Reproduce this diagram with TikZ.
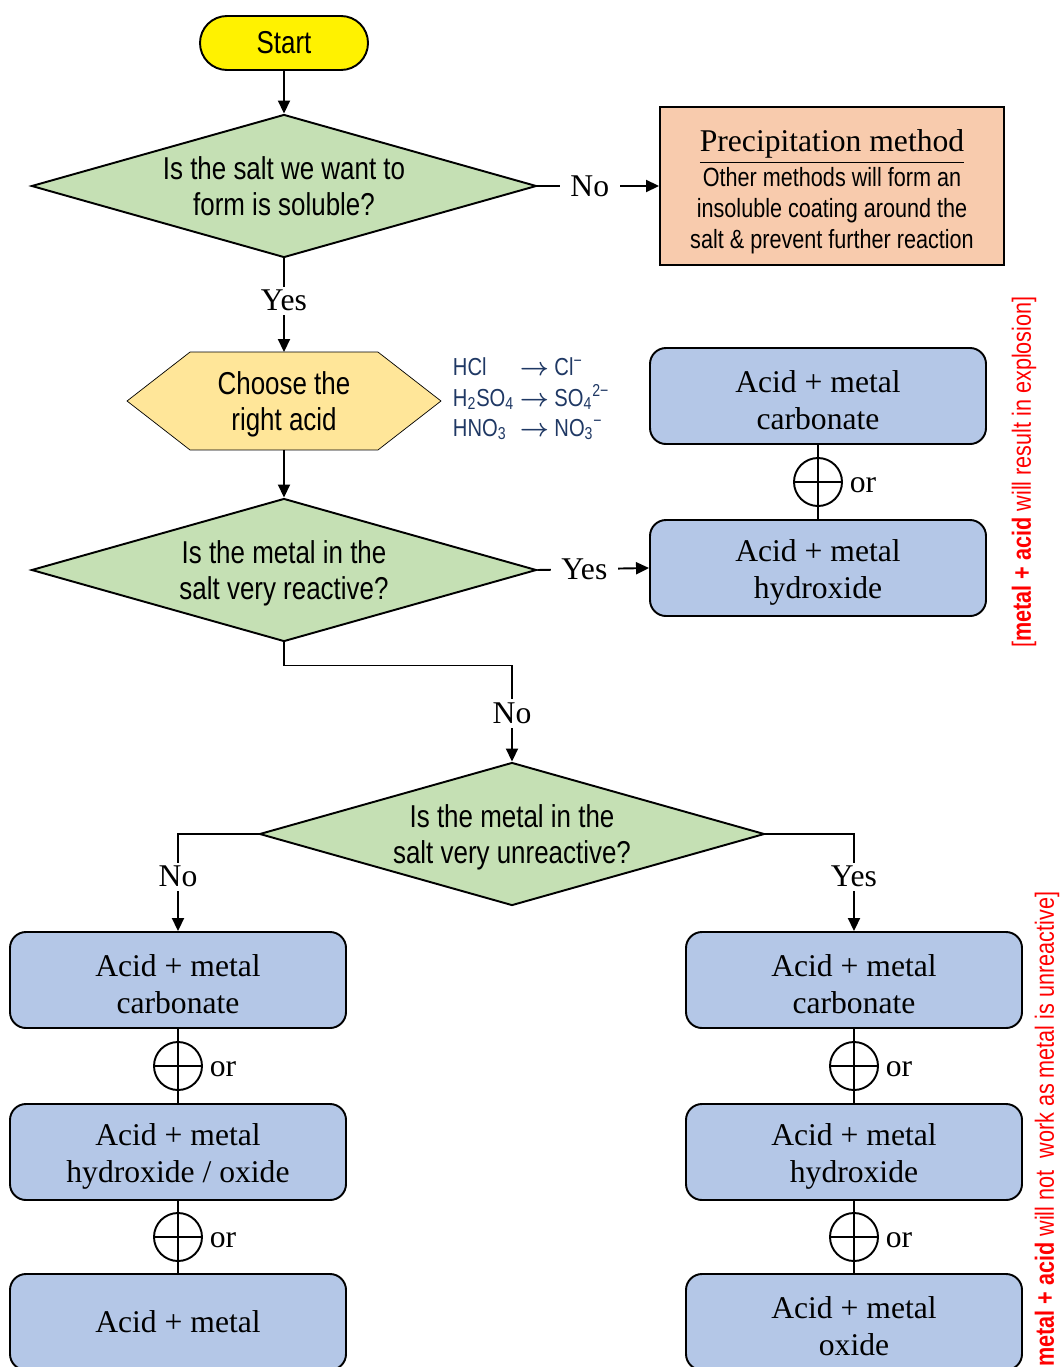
\documentclass[tikz,border=0pt]{standalone}
\usepackage{amsmath}
\usepackage{fontspec}
\setmainfont{Liberation Serif}
\newfontfamily\narrowsf[FakeStretch=0.82]{Liberation Sans}
\usetikzlibrary{arrows.meta,positioning,calc,shapes.geometric,backgrounds}
\definecolor{decgreen}{HTML}{C5E0B4}
\definecolor{boxblue}{HTML}{B4C7E7}
\definecolor{hexyellow}{HTML}{FFE699}
\definecolor{peach}{HTML}{F8CBAD}
\definecolor{chemnavy}{HTML}{1F3864}
\newcommand{\toion}{$\boldsymbol{\rightarrow}$}
\newcommand{\topline}{\rule{0pt}{17.5pt}}

\begin{document}
\begin{tikzpicture}[x=0.2mm,y=0.2mm,line width=1.1pt,
      font=\fontsize{18}{21}\selectfont,
      dec/.style={diamond,draw,fill=decgreen,aspect=3.53,inner sep=0pt,
                  minimum width=101mm,minimum height=28.6mm,align=center,
                  text depth=0pt,font=\fontsize{18}{21}\narrowsf},
      acid/.style={draw,fill=boxblue,rounded corners=3.2mm,align=center,
                   minimum width=67.2mm,minimum height=19.2mm},
      orsign/.style={circle,draw,minimum size=9.6mm,inner sep=0pt,
                     path picture={\draw (path picture bounding box.west)
                       -- (path picture bounding box.east);},
                     label={[label distance=0pt,yshift=-2pt]right:or}},
      lbl/.style={fill=white,inner xsep=6pt,inner ysep=2pt},
      ar/.style={-{Triangle[length=2.6mm,width=2.4mm]}}]
    \useasboundingbox (0,0) rectangle (1063,-1367);
    % top part
    \node[draw,fill=yellow,rounded corners=5.4mm,minimum width=33.6mm,
          minimum height=10.8mm,font=\fontsize{18}{21}\narrowsf]
          (start) at (284,-43) {Start};
    \node[dec] (sol) at (284,-186) {Is the salt we want to\\form is soluble?};
    \node[draw,fill=peach,minimum width=68.8mm,minimum height=31.6mm,
          align=center,font=\fontsize{15}{17.6}\narrowsf] (prec) at (832,-186)
      {{\fontsize{18}{21}\rmfamily\rule{0pt}{19pt}\underline{Precipitation method}}\\[1pt]
       Other methods will form an\\insoluble coating around the\\
       salt \& prevent further reaction};
    \node[minimum width=62.4mm,minimum height=19.2mm,align=center,
          text depth=0pt,font=\fontsize{18}{21}\narrowsf] (acidchoice)
      at (284,-401) {Choose the\\right acid};
    \begin{scope}[on background layer]
      \draw[fill=hexyellow] (acidchoice.west)
        -- ([xshift=12.6mm]acidchoice.north west)
        -- ([xshift=-12.6mm]acidchoice.north east) -- (acidchoice.east)
        -- ([xshift=-12.6mm]acidchoice.south east)
        -- ([xshift=12.6mm]acidchoice.south west) -- cycle;
    \end{scope}
    \node[anchor=west,text=chemnavy,font=\fontsize{14}{17}\narrowsf,
          inner sep=0pt] (ions) at (452,-400)
      {\begin{tabular}{@{}l@{\ }l@{}}
        HCl & \toion\ Cl\textsuperscript{−}\\
        H\textsubscript{2}SO\textsubscript{4} &
          \toion\ SO\textsubscript{4}\textsuperscript{2−}\\
        HNO\textsubscript{3} & \toion\ NO\textsubscript{3}\textsuperscript{−}
       \end{tabular}};
    \node[dec] (react) at (284,-570) {Is the metal in the\\salt very reactive?};
    \node[acid] (ra1) at (818,-396) {\topline Acid + metal\\carbonate};
    \node[acid] (ra2) at (818,-568) {\topline Acid + metal\\hydroxide};
    \node[dec] (unreact) at (512,-834)
      {Is the metal in the\\salt very unreactive?};
    % two columns
    \node[acid] (l1) at (178,-980) {\topline Acid + metal\\carbonate};
    \node[acid] (l2) at (178,-1152) {\topline Acid + metal\\hydroxide / oxide};
    \node[acid] (l3) at (178,-1322) {Acid + metal};
    \node[acid] (r1) at (854,-980) {\topline Acid + metal\\carbonate};
    \node[acid] (r2) at (854,-1152) {\topline Acid + metal\\hydroxide};
    \node[acid] (r3) at (854,-1322) {\topline Acid + metal\\oxide};
    % side notes
    \node[rotate=90,text=red,font=\fontsize{15}{18}\narrowsf] (boom)
      at (1024,-472) {[\textbf{metal + acid} will result in explosion]};
    \node[rotate=90,anchor=east,text=red,font=\fontsize{15}{18}\narrowsf]
      (noreact) at (1047,-885)
      {\textbf{metal + acid} will not\ \ work as metal is unreactive]};
    % connectors
    \draw[ar] (start) -- (sol);
    \draw[ar] (sol.east) -- node[lbl,pos=0.43]{No} (prec.west);
    \draw[ar] (sol.south) -- node[lbl,pos=0.45]{Yes} (acidchoice.north);
    \draw[ar] (acidchoice.south) -- (react.north);
    \draw[ar] (react.east) -- node[lbl,pos=0.42]{Yes} (ra2.west);
    \draw[ar] (react.south) -- ++(0,-23) -| node[lbl,pos=0.75]{No}
      (unreact.north);
    \draw[ar] (unreact.west) -| node[lbl,pos=0.72]{No} (l1.north);
    \draw[ar] (unreact.east) -| node[lbl,pos=0.72]{Yes} (r1.north);
    \draw (ra1) -- (ra2);
    \draw (l1) -- (l2) -- (l3);
    \draw (r1) -- (r2) -- (r3);
    \foreach \a/\b/\n in {ra1/ra2/or0,l1/l2/or1,l2/l3/or2,r1/r2/or3,r2/r3/or4}
      \node[orsign] (\n) at ($(\a.south)!0.5!(\b.north)$) {};
  \end{tikzpicture}
\end{document}
